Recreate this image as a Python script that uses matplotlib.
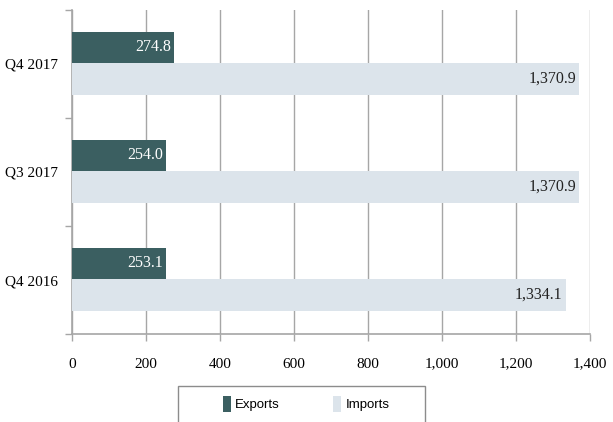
import matplotlib
matplotlib.use("Agg")
import matplotlib.pyplot as plt
from matplotlib.patches import Rectangle, Patch
import numpy as np

categories = ["Q4 2016", "Q3 2017", "Q4 2017"]
exports = [253.1, 254.0, 274.8]
imports = [1334.1, 1370.9, 1370.9]
x_ticks = [0, 200, 400, 600, 800, 1000, 1200, 1400]
x_tick_labels = ["0", "200", "400", "600", "800", "1,000", "1,200", "1,400"]

EXP_COLOR = "#3b5f61"
IMP_COLOR = "#dce4eb"
GRID_COLOR = "#a6a6a6"

plt.rcParams["font.family"] = ["Liberation Serif", "DejaVu Serif"]

fig = plt.figure(figsize=(6.13, 4.22), dpi=100)
ax = fig.add_axes([72 / 613, 1 - 334 / 422, (590 - 72) / 613, (334 - 10) / 422])

y = np.arange(len(categories))
h = 0.29
ax.barh(y + 0.155, exports, height=h, color=EXP_COLOR, zorder=3)
ax.barh(y - 0.14, imports, height=h + 0.01, color=IMP_COLOR, zorder=3)

for yi, v in zip(y, exports):
    ax.text(v - 8, yi + 0.155, f"{v:,.1f}", ha="right", va="center",
            color="white", fontsize=11.5, zorder=4)
for yi, v in zip(y, imports):
    ax.text(v - 8, yi - 0.14, f"{v:,.1f}", ha="right", va="center",
            color="#222222", fontsize=11.5, zorder=4)

ax.set_xlim(0, 1400)
ax.set_ylim(-0.5, 2.5)
ax.set_xticks(x_ticks)
ax.set_xticklabels(x_tick_labels, fontsize=11)
ax.xaxis.grid(True, color=GRID_COLOR, linewidth=1, zorder=0)

# category boundaries get tick marks; names sit at the band centres
ax.set_yticks([-0.5, 0.5, 1.5, 2.5])
ax.set_yticklabels([])
ax.set_yticks(y, minor=True)
ax.set_yticklabels(categories, minor=True, fontsize=11)
ax.tick_params(axis="y", which="minor", length=0, pad=10)
ax.tick_params(axis="y", which="major", length=5, color=GRID_COLOR, width=1)
ax.tick_params(axis="x", length=5, color=GRID_COLOR, width=1, pad=12, direction="out")

for s in ["top", "right"]:
    ax.spines[s].set_visible(False)
for s in ["left", "bottom"]:
    ax.spines[s].set_color(GRID_COLOR)
    ax.spines[s].set_linewidth(1.2)

# legend box running off the bottom edge
box = Rectangle((178 / 613, -0.05), (425 - 178) / 613, 1 - 386 / 422 + 0.05,
                transform=fig.transFigure, facecolor="white",
                edgecolor="#8c8c8c", linewidth=1)
fig.patches.append(box)
handles = [Patch(facecolor=EXP_COLOR, label="Exports"),
           Patch(facecolor=IMP_COLOR, label="Imports")]
fig.legend(handles=handles, loc="center", bbox_to_anchor=(306 / 613, 1 - 404 / 422),
           ncol=2, frameon=False, handlelength=0.6, handleheight=1.5,
           columnspacing=4.0, handletextpad=0.35,
           prop={"family": ["Liberation Sans Narrow", "Liberation Sans"], "size": 9.5})

fig.savefig("out.png", dpi=100)
